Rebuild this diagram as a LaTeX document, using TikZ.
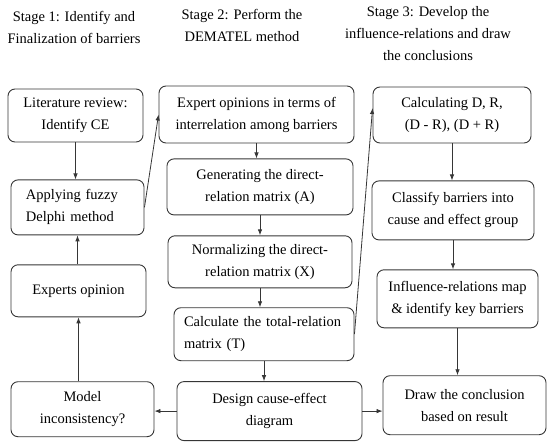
\documentclass[tikz,border=0pt]{standalone}
\usepackage{fontspec}
\setmainfont{Liberation Serif}
\usetikzlibrary{positioning, arrows.meta}
\definecolor{lineg}{HTML}{363636}

\begin{document}
\begin{tikzpicture}[x=1bp, y=1bp, font=\fontsize{14.5bp}{22bp}\selectfont]
% Define styles
\tikzstyle{stage} = [align=center, inner sep=0pt]
\tikzstyle{block} = [rectangle, rounded corners=7bp, draw=lineg, line width=0.9bp, align=center, inner sep=2bp]
\tikzstyle{arrow} = [draw=lineg, line width=0.8bp, -{Latex[length=6bp, width=4.5bp]}]

\useasboundingbox (0,0) rectangle (550,-442);

% Stage titles
\node (st1) [stage] at (74,-27) {Stage 1: Identify and\\Finalization of barriers};
\node (st2) [stage] at (242,-25) {Stage 2: Perform the\\DEMATEL method};
\node (st3) [stage] at (428,-34) {Stage 3: Develop the\\influence-relations and draw\\the conclusions};

% Stage 1
\node (lit) [block, minimum width=135bp, minimum height=53bp] at (75.5,-115.5) {Literature review:\\Identify CE};
\node (fuzzy) [block, align=left, text width=103bp, inner xsep=15bp, minimum height=55bp, below=37bp of lit, xshift=2bp] {Applying fuzzy\\Delphi method};
\node (experts) [block, minimum width=135bp, minimum height=52bp, below=29bp of fuzzy, xshift=1bp] {Experts opinion};
\node (model) [block, minimum width=143bp, minimum height=55bp, below=64bp of experts, xshift=4bp] {Model\\inconsistency?};

% Stage 2
\node (eop) [block, minimum width=195bp, minimum height=57bp] at (256.5,-114.5) {Expert opinions in terms of\\interrelation among barriers};
\node (gen) [block, minimum width=186bp, minimum height=56bp, below=15bp of eop, xshift=3.5bp] {Generating the direct-\\relation matrix (A)};
\node (norm) [block, minimum width=184bp, minimum height=52bp, below=20bp of gen] {Normalizing the direct-\\relation matrix (X)};
\node (total) [block, align=left, text width=160bp, inner xsep=10bp, minimum height=53bp, below=19bp of norm, xshift=4bp] {Calculate the total-relation\\matrix (T)};
\node (design) [block, minimum width=185bp, minimum height=59bp, below=20bp of total, xshift=5.5bp] {Design cause-effect\\diagram};

% Stage 3
\node (dr) [block, minimum width=158bp, minimum height=56bp] at (452,-115) {Calculating D, R,\\(D - R), (D + R)};
\node (classify) [block, minimum width=162bp, minimum height=59bp, below=37bp of dr, xshift=1bp] {Classify barriers into\\cause and effect group};
\node (influence) [block, minimum width=161bp, minimum height=58bp, below=29bp of classify, xshift=4.5bp] {Influence-relations map\\\& identify key barriers};
\node (conclusion) [block, minimum width=163bp, minimum height=59bp, below=47bp of influence, xshift=7bp] {Draw the conclusion\\based on result};

% Connectors
\draw[arrow] (lit.south) -- (lit.south |- fuzzy.north);
\draw[arrow] (fuzzy.south |- experts.north) -- (fuzzy.south);
\draw[arrow] (experts.south |- model.north) -- (experts.south);
\draw[arrow] (design.west) -- (design.west -| model.east);
\draw[arrow] (fuzzy.east) -- (eop.west);
\draw[arrow] (eop.south) -- (eop.south |- gen.north);
\draw[arrow] (gen.south) -- (gen.south |- norm.north);
\draw[arrow] (norm.south) -- (norm.south |- total.north);
\draw[arrow] (total.south) -- (total.south |- design.north);
\draw[arrow] (total.east) -- (dr.175);
\draw[arrow] (dr.south) -- (dr.south |- classify.north);
\draw[arrow] (classify.south) -- (classify.south |- influence.north);
\draw[arrow] (influence.south) -- (influence.south |- conclusion.north);
\draw[arrow] (design.east) -- (design.east -| conclusion.west);

\end{tikzpicture}
\end{document}
